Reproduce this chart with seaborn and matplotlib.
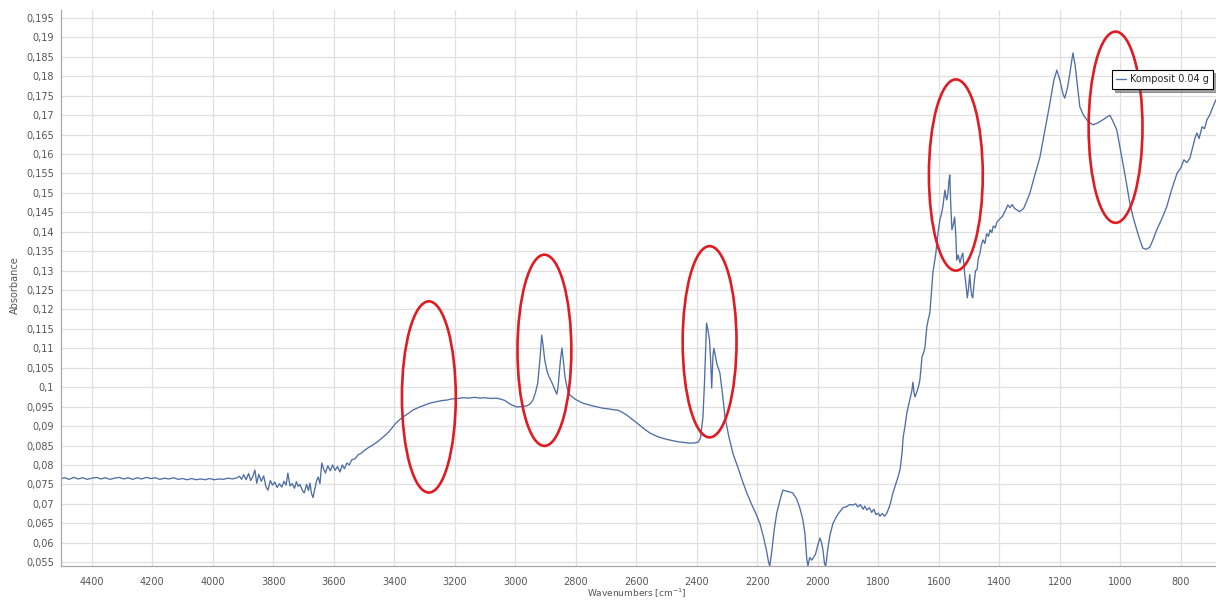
import matplotlib
matplotlib.use("Agg")
import matplotlib.pyplot as plt
from matplotlib.patches import Ellipse
from matplotlib.ticker import MultipleLocator, FuncFormatter
import numpy as np
import pandas as pd
import seaborn as sns

# FTIR spectrum of the composite sample (wavenumber in cm^-1, absorbance)
wavenumber = [
    4502, 4490, 4475, 4460, 4445, 4430, 4415, 4400, 4385, 4370, 4355, 4340, 4325, 4310,
    4295, 4280, 4265, 4250, 4235, 4220, 4205, 4190, 4175, 4160, 4145, 4130, 4115, 4100,
    4085, 4070, 4055, 4040, 4025, 4010, 3995, 3980, 3965, 3950, 3935, 3920, 3912, 3905,
    3898, 3890, 3882, 3875, 3868, 3861, 3855, 3848, 3840, 3832, 3825, 3818, 3810, 3803,
    3795, 3788, 3780, 3772, 3765, 3758, 3752, 3745, 3738, 3730, 3724, 3718, 3712, 3705,
    3698, 3690, 3684, 3679, 3674, 3669, 3663, 3657, 3652, 3646, 3640, 3634, 3628, 3620,
    3612, 3604, 3596, 3588, 3580, 3572, 3565, 3557, 3549, 3541, 3530, 3520, 3510, 3498,
    3485, 3470, 3455, 3440, 3425, 3410, 3398, 3385, 3372, 3355, 3339, 3320, 3300, 3283,
    3260, 3240, 3226, 3210, 3190, 3174, 3155, 3135, 3117, 3100, 3080, 3065, 3051, 3035,
    3018, 3005, 2995, 2980, 2962, 2950, 2942, 2934, 2926, 2918, 2913, 2908, 2903, 2895,
    2887, 2880, 2870, 2863, 2859, 2856, 2851, 2846, 2841, 2836, 2828, 2820, 2800, 2777,
    2750, 2711, 2690, 2675, 2661, 2650, 2631, 2615, 2598, 2578, 2555, 2530, 2510, 2489,
    2465, 2445, 2423, 2405, 2395, 2388, 2380, 2375, 2368, 2364, 2358, 2354, 2351, 2347,
    2344, 2340, 2334, 2324, 2315, 2307, 2295, 2281, 2265, 2250, 2235, 2220, 2205, 2192,
    2180, 2170, 2163, 2159, 2152, 2145, 2136, 2125, 2116, 2105, 2095, 2083, 2070, 2060,
    2050, 2043, 2037, 2033, 2027, 2020, 2014, 2008, 2000, 1993, 1988, 1983, 1978, 1974,
    1968, 1960, 1950, 1935, 1917, 1905, 1895, 1884, 1875, 1868, 1860, 1850, 1845, 1838,
    1830, 1822, 1815, 1808, 1800, 1795, 1787, 1780, 1772, 1765, 1760, 1752, 1745, 1735,
    1728, 1722, 1718, 1712, 1706, 1700, 1693, 1689, 1686, 1682, 1679, 1672, 1668, 1663,
    1659, 1656, 1650, 1646, 1643, 1640, 1635, 1630, 1625, 1620, 1615, 1610, 1604, 1597,
    1592, 1587, 1583, 1580, 1577, 1574, 1570, 1567, 1564, 1561, 1557, 1552, 1548, 1544,
    1541, 1536, 1530, 1526, 1521, 1517, 1515, 1510, 1506, 1502, 1498, 1494, 1491, 1488,
    1484, 1479, 1474, 1470, 1464, 1460, 1454, 1448, 1442, 1436, 1431, 1425, 1420, 1414,
    1408, 1400, 1390, 1380, 1372, 1365, 1358, 1350, 1340, 1333, 1320, 1310, 1299, 1285,
    1266, 1250, 1233, 1220, 1210, 1200, 1190, 1184, 1175, 1167, 1157, 1150, 1144, 1134,
    1122, 1111, 1100, 1091, 1075, 1058, 1045, 1035, 1025, 1012, 1002, 992, 980, 969,
    957, 946, 936, 926, 915, 903, 892, 880, 865, 847, 830, 813, 800, 790,
    780, 770, 760, 752, 747, 740, 730, 722, 714, 705, 695, 684,
]
absorbance = [
    0.0765, 0.0767, 0.0763, 0.0768, 0.0764, 0.0767, 0.0763, 0.0766, 0.0768, 0.0764, 0.0767, 0.0763, 0.0766, 0.0768,
    0.0764, 0.0767, 0.0763, 0.0767, 0.0764, 0.0768, 0.0765, 0.0767, 0.0763, 0.0766, 0.0764, 0.0767, 0.0763, 0.0765,
    0.0762, 0.0765, 0.0762, 0.0764, 0.0762, 0.0765, 0.0762, 0.0764, 0.0763, 0.0766, 0.0764, 0.0767, 0.0771, 0.0763,
    0.0775, 0.0762, 0.0778, 0.0760, 0.0770, 0.0787, 0.0753, 0.0776, 0.0758, 0.0772, 0.0745, 0.0735, 0.0760, 0.0748,
    0.0756, 0.0742, 0.0752, 0.0743, 0.0758, 0.0748, 0.0779, 0.0746, 0.0752, 0.0740, 0.0757, 0.0745, 0.0750, 0.0736,
    0.0728, 0.0750, 0.0734, 0.0753, 0.0727, 0.0716, 0.0738, 0.0760, 0.0769, 0.0752, 0.0805, 0.0790, 0.0779, 0.0798,
    0.0785, 0.0800, 0.0786, 0.0796, 0.0782, 0.0800, 0.0790, 0.0805, 0.0800, 0.0813, 0.0816, 0.0826, 0.0830, 0.0838,
    0.0845, 0.0852, 0.0860, 0.0870, 0.0880, 0.0893, 0.0905, 0.0915, 0.0923, 0.0932, 0.0941, 0.0948, 0.0954, 0.0959,
    0.0963, 0.0966, 0.0967, 0.0970, 0.0971, 0.0973, 0.0972, 0.0974, 0.0972, 0.0973, 0.0971, 0.0972, 0.0970, 0.0966,
    0.0957, 0.0952, 0.0949, 0.0950, 0.0952, 0.0958, 0.0967, 0.0985, 0.1011, 0.1080, 0.1134, 0.1105, 0.1070, 0.1040,
    0.1024, 0.1013, 0.0995, 0.0982, 0.1000, 0.1026, 0.1070, 0.1101, 0.1065, 0.1026, 0.0995, 0.0980, 0.0968, 0.0959,
    0.0953, 0.0946, 0.0944, 0.0942, 0.0941, 0.0937, 0.0928, 0.0918, 0.0908, 0.0895, 0.0882, 0.0873, 0.0868, 0.0864,
    0.0860, 0.0858, 0.0856, 0.0857, 0.0859, 0.0870, 0.0923, 0.1010, 0.1165, 0.1150, 0.1120, 0.1060, 0.0998, 0.1080,
    0.1100, 0.1085, 0.1060, 0.1037, 0.0980, 0.0923, 0.0875, 0.0830, 0.0795, 0.0760, 0.0728, 0.0700, 0.0675, 0.0650,
    0.0615, 0.0580, 0.0550, 0.0540, 0.0580, 0.0630, 0.0676, 0.0710, 0.0735, 0.0733, 0.0731, 0.0728, 0.0712, 0.0690,
    0.0660, 0.0625, 0.0560, 0.0540, 0.0562, 0.0555, 0.0563, 0.0570, 0.0595, 0.0612, 0.0600, 0.0580, 0.0545, 0.0540,
    0.0580, 0.0620, 0.0650, 0.0672, 0.0690, 0.0693, 0.0698, 0.0697, 0.0700, 0.0692, 0.0698, 0.0686, 0.0694, 0.0684,
    0.0690, 0.0678, 0.0686, 0.0672, 0.0676, 0.0668, 0.0675, 0.0668, 0.0676, 0.0690, 0.0702, 0.0728, 0.0745, 0.0769,
    0.0790, 0.0830, 0.0872, 0.0900, 0.0934, 0.0955, 0.0978, 0.0993, 0.1013, 0.0985, 0.0975, 0.0990, 0.1000, 0.1018,
    0.1050, 0.1078, 0.1090, 0.1103, 0.1130, 0.1155, 0.1175, 0.1191, 0.1240, 0.1294, 0.1320, 0.1345, 0.1390, 0.1430,
    0.1445, 0.1464, 0.1490, 0.1507, 0.1490, 0.1482, 0.1500, 0.1530, 0.1546, 0.1474, 0.1405, 0.1420, 0.1438, 0.1390,
    0.1327, 0.1340, 0.1320, 0.1335, 0.1345, 0.1310, 0.1294, 0.1260, 0.1230, 0.1255, 0.1290, 0.1250, 0.1235, 0.1230,
    0.1265, 0.1300, 0.1302, 0.1330, 0.1345, 0.1365, 0.1379, 0.1370, 0.1395, 0.1388, 0.1405, 0.1398, 0.1415, 0.1410,
    0.1425, 0.1432, 0.1440, 0.1455, 0.1469, 0.1462, 0.1470, 0.1460, 0.1455, 0.1452, 0.1460, 0.1478, 0.1500, 0.1540,
    0.1592, 0.1660, 0.1731, 0.1790, 0.1816, 0.1790, 0.1755, 0.1744, 0.1770, 0.1808, 0.1860, 0.1830, 0.1790, 0.1721,
    0.1700, 0.1688, 0.1680, 0.1675, 0.1680, 0.1688, 0.1695, 0.1700, 0.1685, 0.1662, 0.1620, 0.1577, 0.1525, 0.1474,
    0.1435, 0.1405, 0.1380, 0.1358, 0.1355, 0.1360, 0.1380, 0.1405, 0.1430, 0.1464, 0.1510, 0.1550, 0.1565, 0.1585,
    0.1578, 0.1590, 0.1620, 0.1645, 0.1654, 0.1640, 0.1670, 0.1665, 0.1688, 0.1700, 0.1720, 0.1740,
]

# Highlighted band regions (centre wavenumber, centre absorbance)
band_centres_wn = [3286, 2904, 2358, 1544, 1016]
band_centres_abs = [0.0975, 0.1095, 0.1117, 0.1546, 0.1669]
band_width_wn = 178
band_height_abs = 0.0492

series_label = "Komposit 0.04 g"

df = pd.DataFrame({"Wavenumber": wavenumber, "Absorbance": absorbance})

sns.set_style("white")
plt.rcParams["font.family"] = ["DejaVu Sans"]

fig = plt.figure(figsize=(12.16, 6.01), dpi=100)
ax = fig.add_axes([61 / 1216, 35 / 601, 1155 / 1216, 556 / 601])

sns.lineplot(data=df, x="Wavenumber", y="Absorbance", sort=False, estimator=None,
             color="#4f6ea6", linewidth=0.95, ax=ax, label=series_label)

for cx, cy in zip(band_centres_wn, band_centres_abs):
    ax.add_patch(Ellipse((cx, cy), band_width_wn, band_height_abs, fill=False,
                         edgecolor="#e01b22", linewidth=1.9, zorder=5))

ax.set_xlim(4502, 684)
ax.set_ylim(0.054, 0.19706)

ax.xaxis.set_major_locator(MultipleLocator(200))
ax.xaxis.set_minor_locator(MultipleLocator(50))
ax.yaxis.set_major_locator(MultipleLocator(0.005))
ax.yaxis.set_minor_locator(MultipleLocator(0.001))


def comma_fmt(v, _pos):
    s = f"{v:.3f}".rstrip("0").rstrip(".")
    return s.replace(".", ",")


ax.yaxis.set_major_formatter(FuncFormatter(comma_fmt))
ax.xaxis.set_major_formatter(FuncFormatter(lambda v, _p: f"{int(round(v))}"))

ax.grid(True, which="major", color="#e0e0e0", linewidth=0.9)
ax.set_axisbelow(True)

for side in ("top", "right"):
    ax.spines[side].set_visible(False)
for side in ("left", "bottom"):
    ax.spines[side].set_color("#a8a8a8")
    ax.spines[side].set_linewidth(0.9)

ax.tick_params(axis="both", which="major", length=3, width=0.8, color="#a8a8a8",
               labelsize=7, labelcolor="#555555", pad=2)
ax.tick_params(axis="both", which="minor", length=2, width=0.6, color="#b8b8b8")
ax.tick_params(axis="x", which="major", pad=5)

ax.set_xlabel("Wavenumbers [cm$^{-1}$]", fontsize=6.5, color="#555555")
ax.set_ylabel("Absorbance", fontsize=7, color="#555555")
ax.xaxis.set_label_coords(0.4987, -0.037)
ax.yaxis.set_label_coords(-0.0355, 0.505)

leg = ax.legend(loc="upper right", bbox_to_anchor=(1213 / 1216, 1 - 70 / 601),
                bbox_transform=fig.transFigure, borderaxespad=0, fontsize=7,
                frameon=True, fancybox=False, shadow=True, framealpha=1,
                handlelength=1.0, handletextpad=0.4, borderpad=0.45)
leg.get_frame().set_edgecolor("#000000")
leg.get_frame().set_linewidth(0.8)

fig.savefig("out.png", dpi=100)
